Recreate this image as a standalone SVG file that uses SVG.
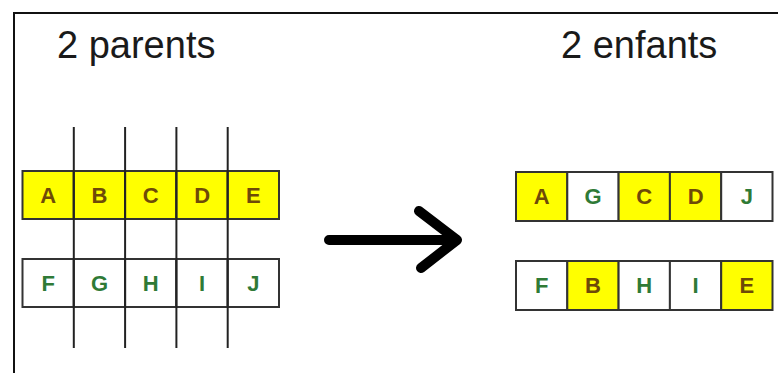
<svg xmlns="http://www.w3.org/2000/svg" width="778" height="373" viewBox="0 0 778 373">
<style>
.title{font-family:"Liberation Sans",Arial,sans-serif;font-size:38px;fill:#1a1a1a}
.cell{stroke:#333;stroke-width:2}
.y{fill:#ffff00}
.w{fill:#ffffff}
.lt{font-family:"Liberation Sans",Arial,sans-serif;font-size:22px;font-weight:bold;text-anchor:middle}
.br{fill:#6e4a08}
.gr{fill:#2f7a36}
.cut{stroke:#222;stroke-width:2}
</style>
<rect x="0" y="0" width="778" height="373" fill="#fff"/>
<path d="M14 373 V13 H778" fill="none" stroke="#111" stroke-width="2"/>
<text class="title" x="57" y="58">2 parents</text>
<text class="title" x="561" y="58">2 enfants</text>

<g id="parent1">
<rect class="cell y" x="22.5" y="171" width="51.3" height="48"/>
<rect class="cell y" x="73.8" y="171" width="51.3" height="48"/>
<rect class="cell y" x="125.1" y="171" width="51.3" height="48"/>
<rect class="cell y" x="176.4" y="171" width="51.3" height="48"/>
<rect class="cell y" x="227.7" y="171" width="51.3" height="48"/>
<text class="lt br" x="48.2" y="203">A</text>
<text class="lt br" x="99.5" y="203">B</text>
<text class="lt br" x="150.8" y="203">C</text>
<text class="lt br" x="202.1" y="203">D</text>
<text class="lt br" x="253.4" y="203">E</text>
</g>
<g id="parent2">
<rect class="cell w" x="22.5" y="259" width="51.3" height="48"/>
<rect class="cell w" x="73.8" y="259" width="51.3" height="48"/>
<rect class="cell w" x="125.1" y="259" width="51.3" height="48"/>
<rect class="cell w" x="176.4" y="259" width="51.3" height="48"/>
<rect class="cell w" x="227.7" y="259" width="51.3" height="48"/>
<text class="lt gr" x="48.2" y="291">F</text>
<text class="lt gr" x="99.5" y="291">G</text>
<text class="lt gr" x="150.8" y="291">H</text>
<text class="lt gr" x="202.1" y="291">I</text>
<text class="lt gr" x="253.4" y="291">J</text>
</g>
<g id="cuts">
<line class="cut" x1="73.8" y1="127" x2="73.8" y2="348"/>
<line class="cut" x1="125.1" y1="127" x2="125.1" y2="348"/>
<line class="cut" x1="176.4" y1="127" x2="176.4" y2="348"/>
<line class="cut" x1="227.7" y1="127" x2="227.7" y2="348"/>
</g>

<g id="connectors">
<path d="M329 240 H456 M419 211 L457 240 L421 268" fill="none" stroke="#000" stroke-width="10" stroke-linecap="round" stroke-linejoin="round"/>
</g>

<g id="child1">
<rect class="cell y" x="516" y="172" width="51.3" height="49"/>
<rect class="cell w" x="567.3" y="172" width="51.3" height="49"/>
<rect class="cell y" x="618.6" y="172" width="51.3" height="49"/>
<rect class="cell y" x="669.9" y="172" width="51.3" height="49"/>
<rect class="cell w" x="721.2" y="172" width="51.3" height="49"/>
<text class="lt br" x="541.7" y="204">A</text>
<text class="lt gr" x="593" y="204">G</text>
<text class="lt br" x="644.3" y="204">C</text>
<text class="lt br" x="695.6" y="204">D</text>
<text class="lt gr" x="746.9" y="204">J</text>
</g>
<g id="child2">
<rect class="cell w" x="516" y="261" width="51.3" height="49"/>
<rect class="cell y" x="567.3" y="261" width="51.3" height="49"/>
<rect class="cell w" x="618.6" y="261" width="51.3" height="49"/>
<rect class="cell w" x="669.9" y="261" width="51.3" height="49"/>
<rect class="cell y" x="721.2" y="261" width="51.3" height="49"/>
<text class="lt gr" x="541.7" y="293">F</text>
<text class="lt br" x="593" y="293">B</text>
<text class="lt gr" x="644.3" y="293">H</text>
<text class="lt gr" x="695.6" y="293">I</text>
<text class="lt br" x="746.9" y="293">E</text>
</g>
</svg>
